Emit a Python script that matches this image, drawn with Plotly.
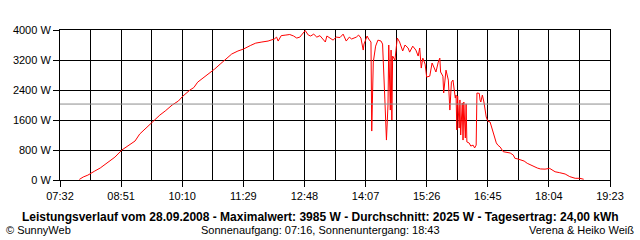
import plotly.graph_objects as go

DATE = "2008-09-28"

times = [
    "07:57", "08:02", "08:08", "08:12", "08:17", "08:24", "08:30", "08:37", "08:43", "08:52",
    "09:00", "09:09", "09:15", "09:23", "09:32", "09:41", "09:48", "09:57", "10:05", "10:11",
    "10:20", "10:25", "10:30", "10:37", "10:46", "10:52", "10:59", "11:07", "11:14", "11:22",
    "11:29", "11:38", "11:45", "11:53", "12:01", "12:09", "12:12", "12:14", "12:18", "12:24",
    "12:29", "12:34", "12:38", "12:42", "12:46", "12:49", "12:53", "12:56", "13:00", "13:04",
    "13:08", "13:12", "13:15", "13:17", "13:21", "13:25", "13:29", "13:34", "13:38", "13:42",
    "13:46", "13:49", "13:55", "13:58", "14:01", "14:04", "14:05", "14:09", "14:11", "14:14",
    "14:15", "14:17", "14:20", "14:23", "14:27", "14:29", "14:32", "14:34", "14:36", "14:37",
    "14:39", "14:40", "14:41", "14:42", "14:45", "14:48", "14:51", "14:55", "14:58", "15:02",
    "15:04", "15:08", "15:12", "15:15", "15:17", "15:19", "15:21", "15:24", "15:26", "15:30",
    "15:33", "15:35", "15:38", "15:41", "15:43", "15:44", "15:47", "15:48", "15:51", "15:54",
    "15:56", "15:58", "16:00", "16:03", "16:04", "16:05", "16:06", "16:08", "16:09", "16:10",
    "16:12", "16:13", "16:14", "16:16", "16:17", "16:18", "16:21", "16:23", "16:26", "16:28",
    "16:30", "16:31", "16:34", "16:35", "16:36", "16:38", "16:40", "16:43", "16:45", "16:48",
    "16:52", "16:56", "16:58", "17:01", "17:05", "17:10", "17:14", "17:18", "17:20", "17:24",
    "17:27", "17:32", "17:36", "17:40", "17:44", "17:49", "17:53", "17:59", "18:05", "18:09",
    "18:12", "18:18", "18:25", "18:31", "18:38", "18:44", "18:49",
]

power = [
    15, 80, 130, 185, 240, 320, 410, 505, 610, 800,
    905, 1040, 1225, 1385, 1570, 1730, 1840, 2000, 2105, 2240,
    2400, 2465, 2610, 2720, 2850, 2960, 3090, 3225, 3360, 3440,
    3490, 3585, 3650, 3680, 3705, 3760, 3810, 3705, 3850, 3865,
    3880, 3840, 3785, 3810, 3920, 3985, 3865, 3840, 3890, 3810,
    3850, 3760, 3680, 3840, 3785, 3730, 3810, 3800, 3890, 3705,
    3810, 3760, 3810, 3865, 3785, 3465, 3625, 3840, 3760, 3680,
    1305, 3145, 3570, 3730, 3705, 3625, 2135, 1065, 2000, 3600,
    1865, 3465, 1600, 3305, 3200, 3785, 3680, 3440, 3600, 3520,
    3410, 3570, 3465, 3305, 3520, 2985, 3250, 3090, 2745, 2770,
    3120, 3040, 2880, 3145, 3250, 2880, 2770, 2320, 2930, 2665,
    1865, 2610, 2665, 2185, 2265, 1335, 2240, 1385, 2135, 1200,
    2055, 1065, 2080, 1120, 2030, 1015, 985, 905, 930, 855,
    930, 2320, 2310, 2135, 2080, 2265, 2080, 1680, 1570, 1545,
    1255, 990, 930, 880, 755, 733, 720, 665, 580, 560,
    535, 505, 445, 400, 355, 320, 295, 290, 310, 255,
    220, 195, 160, 90, 45, 45, 20,
]

x_tick_labels = ["07:32", "08:51", "10:10", "11:29", "12:48", "14:07", "15:26", "16:45", "18:04", "19:23"]
y_tick_values = [0, 800, 1600, 2400, 3200, 4000]
y_tick_labels = ["0 W", "800 W", "1600 W", "2400 W", "3200 W", "4000 W"]
average_w = 2025

title_text = ("<b>Leistungsverlauf vom 28.09.2008 - Maximalwert: 3985 W - "
              "Durchschnitt: 2025 W - Tagesertrag: 24,00 kWh</b>")
left_text = "© SunnyWeb"
mid_text = "Sonnenaufgang: 07:16, Sonnenuntergang: 18:43"
right_text = "Verena &amp; Heiko Weiß"

x = [f"{DATE} {t}" for t in times]
x_ticks = [f"{DATE} {t}" for t in x_tick_labels]

FONT = "Liberation Sans, Arial, sans-serif"

fig = go.Figure()
fig.add_trace(go.Scatter(
    x=x, y=power, mode="lines",
    line=dict(color="#ff0000", width=1),
    hoverinfo="skip", showlegend=False,
))

fig.add_shape(type="line", xref="paper", x0=0, x1=1, yref="y",
              y0=average_w, y1=average_w,
              line=dict(color="#8c8c8c", width=1), layer="above")

fig.update_layout(
    width=640, height=240,
    margin=dict(l=60, r=30, t=30, b=60),
    paper_bgcolor="white", plot_bgcolor="white",
    font=dict(family=FONT, size=11, color="black"),
    showlegend=False,
)

fig.update_xaxes(
    type="date",
    range=[x_ticks[0], x_ticks[-1]],
    tickmode="array", tickvals=x_ticks, ticktext=x_tick_labels,
    showgrid=True, gridcolor="black", gridwidth=1,
    ticks="outside", ticklen=6, tickcolor="black", tickwidth=1,
    showline=True, linecolor="black", linewidth=1, mirror=True,
    zeroline=False,
    minor=dict(tick0=x_ticks[0], dtick=39.5 * 60 * 1000, showgrid=True,
               gridcolor="black", gridwidth=1, ticks=""),
    tickfont=dict(family=FONT, size=11, color="black"),
)

fig.update_yaxes(
    range=[0, 4000],
    tickmode="array", tickvals=y_tick_values, ticktext=y_tick_labels,
    showgrid=True, gridcolor="black", gridwidth=1,
    ticks="outside", ticklen=6, tickcolor="black", tickwidth=1,
    showline=True, linecolor="black", linewidth=1, mirror=True,
    zeroline=False,
    tickfont=dict(family=FONT, size=11, color="black"),
)

def px_x(p):
    return (p - 60) / 550.0

def px_y(p):
    return (180 - p) / 150.0

fig.add_annotation(text=title_text, xref="paper", yref="paper",
                   x=px_x(320), y=px_y(216.5), xanchor="center", yanchor="middle",
                   showarrow=False, font=dict(family=FONT, size=12, color="black"))
fig.add_annotation(text=left_text, xref="paper", yref="paper",
                   x=px_x(4), y=px_y(229.5), xanchor="left", yanchor="middle",
                   showarrow=False, font=dict(family=FONT, size=11, color="black"))
fig.add_annotation(text=mid_text, xref="paper", yref="paper",
                   x=px_x(320), y=px_y(229.5), xanchor="center", yanchor="middle",
                   showarrow=False, font=dict(family=FONT, size=11, color="black"))
fig.add_annotation(text=right_text, xref="paper", yref="paper",
                   x=px_x(636), y=px_y(229.5), xanchor="right", yanchor="middle",
                   showarrow=False, font=dict(family=FONT, size=11, color="black"))

fig.write_html("out.html")
